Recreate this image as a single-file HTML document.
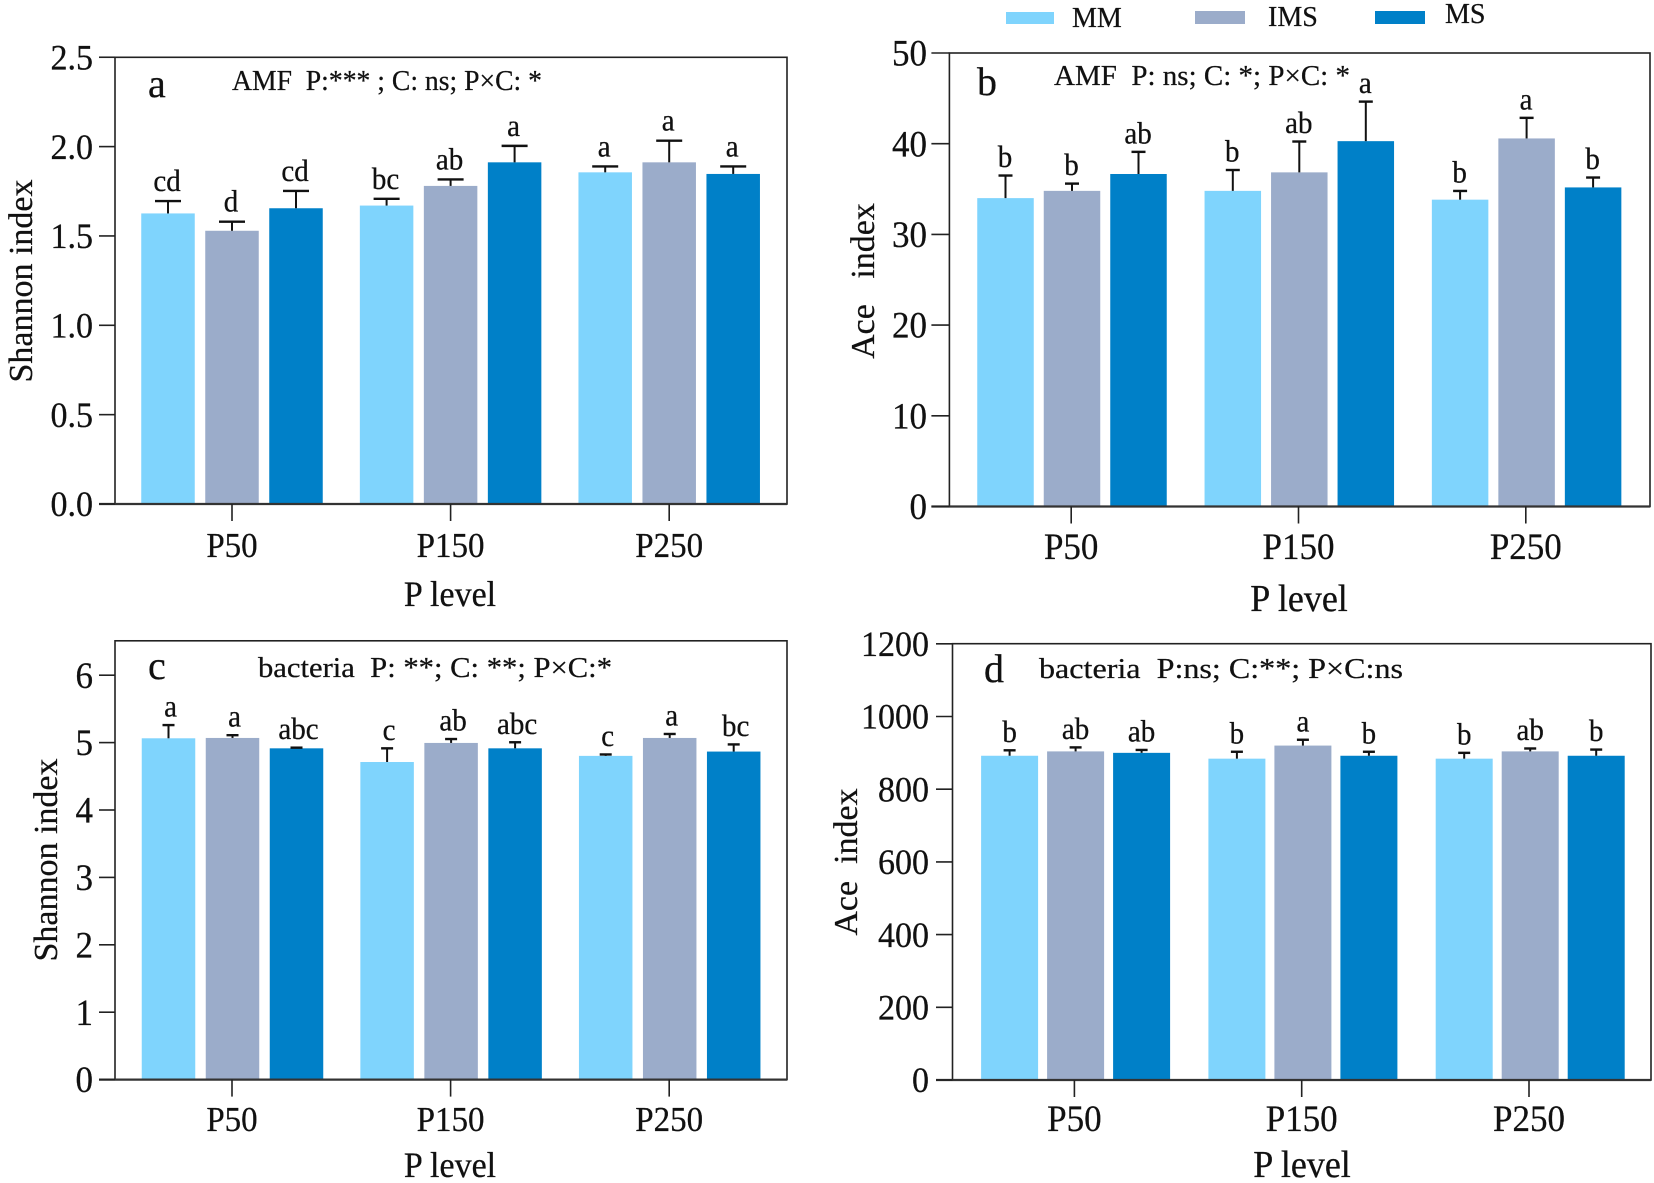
<!DOCTYPE html>
<html lang="en">
<head>
<meta charset="utf-8">
<title>Shannon and Ace diversity index by P level</title>
<style>
html,body{margin:0;padding:0;background:#fff;width:1654px;height:1183px;overflow:hidden}
svg{display:block}
text{font-family:"Liberation Serif",serif;fill:#111;stroke:#111;stroke-width:.25px;white-space:pre}
</style>
</head>
<body>
<svg id="chart" xmlns="http://www.w3.org/2000/svg" width="1654" height="1183" viewBox="0 0 1654 1183">
  <rect x="0" y="0" width="1654" height="1183" fill="#fff"/>
  <g>
    <rect x="1006" y="12" width="48" height="12" fill="#7fd4fd"/>
    <text x="1072" y="27" font-size="28">MM</text>
    <rect x="1195" y="11" width="50" height="13" fill="#9bacca"/>
    <text x="1268" y="26" font-size="28">IMS</text>
    <rect x="1375" y="11" width="50" height="13" fill="#0080c8"/>
    <text x="1445" y="23" font-size="28">MS</text>
  </g>
</svg>
<script>
const categories = ['P50', 'P150', 'P250'];
const seriesNames = ['MM', 'IMS', 'MS'];
const seriesColors = ['#7fd4fd', '#9bacca', '#0080c8'];

const ticksA = ['0.0', '0.5', '1.0', '1.5', '2.0', '2.5'];
const meansA = [[1.626, 1.67, 1.856], [1.529, 1.78, 1.912], [1.655, 1.912, 1.847]];
const errTopsA = [[1.695, 1.708, 1.889], [1.58, 1.816, 2.033], [1.752, 2.004, 1.889]];
const lettersA = [['cd', 'bc', 'a'], ['d', 'ab', 'a'], ['cd', 'a', 'a']];

const ticksB = ['0', '10', '20', '30', '40', '50'];
const meansB = [[34.0, 34.8, 33.83], [34.8, 36.84, 40.58], [36.66, 40.28, 35.18]];
const errTopsB = [[36.49, 37.1, 34.79], [35.6, 40.24, 42.85], [39.1, 44.64, 36.27]];
const lettersB = [['b', 'b', 'b'], ['b', 'ab', 'a'], ['ab', 'a', 'b']];

const ticksC = ['0', '1', '2', '3', '4', '5', '6'];
const meansC = [[5.064, 4.712, 4.803], [5.069, 4.995, 5.069], [4.915, 4.915, 4.867]];
const errTopsC = [[5.26, 4.915, 4.824], [5.11, 5.053, 5.128], [4.925, 5.005, 4.973]];
const lettersC = [['a', 'c', 'c'], ['a', 'ab', 'a'], ['abc', 'abc', 'bc']];

const ticksD = ['0', '200', '400', '600', '800', '1000', '1200'];
const meansD = [[892, 884, 884], [904, 920, 904], [900, 892, 892]];
const errTopsD = [[907, 903, 900], [915, 936, 912], [908, 903, 909]];
const lettersD = [['b', 'b', 'b'], ['ab', 'a', 'ab'], ['ab', 'b', 'b']];

const svg = document.getElementById('chart');
const NS = 'http://www.w3.org/2000/svg';
const STRETCH = 1.06;

function make(tag, attrs, parent, content) {
  const el = document.createElementNS(NS, tag);
  for (const k in attrs) el.setAttribute(k, attrs[k]);
  if (content !== undefined) el.textContent = content;
  parent.appendChild(el);
  return el;
}

function at(x, y) {
  return 'translate(' + x + ',' + y + ') scale(1,' + STRETCH + ')';
}

function drawPanel(p) {
  const g = make('g', {}, svg);
  
  

  const yScale = v => p.bottom - v * p.unit;
  const xScale = i => p.x0 + i * p.step;

  p.means.forEach((row, s) => {
    row.forEach((v, c) => {
      const cx = xScale(c) + (s - 1) * p.offset + p.barShift;

      const bar = make('rect', {
        x: cx - p.barW / 2, y: yScale(v), width: p.barW, height: p.bottom - yScale(v), fill: seriesColors[s]
      }, g);
      
      

      const errY = yScale(p.errTops[s][c]);
      const stem = make('line', {
        x1: cx, x2: cx, y1: yScale(v), y2: errY, stroke: '#111', 'stroke-width': 2
      }, g);
      
      

      const cap = make('line', {
        x1: cx - p.cap / 2, x2: cx + p.cap / 2, y1: errY, y2: errY, stroke: '#111', 'stroke-width': 2.4
      }, g);
      
      

      const letter = make('text', {
        transform: at(cx + p.letterDx, errY - p.letterGap), 'text-anchor': 'middle', 'font-size': 29
      }, g, p.letters[s][c]);
      
      
    });
  });

  const frame = make('rect', {
    x: p.left, y: p.top, width: p.right - p.left, height: p.bottom - p.top, fill: 'none', stroke: '#222', 'stroke-width': 1.6
  }, g);
  
  

  const baseline = make('line', {
    x1: p.stub, x2: p.right, y1: p.bottom, y2: p.bottom, stroke: '#333', 'stroke-width': 2.2
  }, g);
  
  

  p.ticks.forEach(label => {
    const y = yScale(parseFloat(label));
    const tick = make('line', {
      x1: p.stub, x2: p.left, y1: y, y2: y, stroke: '#222', 'stroke-width': 1.6
    }, g);
    
    
    const tickLabel = make('text', {
      transform: at(p.tickRight, y + p.tickFont * 0.36), 'text-anchor': 'end', 'font-size': p.tickFont
    }, g, label);
    
    
  });

  categories.forEach((name, i) => {
    const x = xScale(i);
    const tick = make('line', {
      x1: x, x2: x, y1: p.bottom, y2: p.bottom + 17, stroke: '#222', 'stroke-width': 1.6
    }, g);
    
    
    const lab = make('text', {
      transform: at(x, p.catY), 'text-anchor': 'middle', 'font-size': p.labelFont
    }, g, name);
    
    
  });

  const xTitle = make('text', {
    transform: at(p.xTitleX, p.xTitleY), 'text-anchor': 'middle', 'font-size': p.xTitleFont
  }, g, 'P level');
  
  

  const yTitle = make('text', {
    transform: 'translate(' + p.yTitleX + ',' + p.yTitleY + ') rotate(-90)', 'text-anchor': 'middle', 'font-size': 34
  }, g, p.yTitle);
  
  

  const tag = make('text', {
    x: p.tagX, y: p.tagY, 'font-size': 40
  }, g, p.id);
  
  

  const stat = make('text', {
    x: p.statX, y: p.statY, 'font-size': 29, textLength: p.statW, lengthAdjust: 'spacingAndGlyphs'
  }, g, p.stat);
  
  
}

drawPanel({
  id: 'a', means: meansA, errTops: errTopsA, letters: lettersA, ticks: ticksA,
  left: 115, right: 787, top: 57.3, bottom: 504, unit: 178.7, stub: 99,
  x0: 232, step: 218.6, offset: 64, barW: 53.5, cap: 26, barShift: 0, letterDx: -1, letterGap: 10,
  tickRight: 93, tickFont: 34, catY: 557, labelFont: 33, xTitleX: 450, xTitleY: 606, xTitleFont: 34,
  yTitle: 'Shannon index', yTitleX: 32, yTitleY: 281,
  tagX: 148, tagY: 97, stat: 'AMF  P:*** ; C: ns; P×C: *', statX: 232, statY: 90, statW: 310
});

drawPanel({
  id: 'b', means: meansB, errTops: errTopsB, letters: lettersB, ticks: ticksB,
  left: 949.4, right: 1650, top: 53, bottom: 506.5, unit: 9.07, stub: 931.4,
  x0: 1071.2, step: 227.3, offset: 66.5, barW: 56.5, cap: 14, barShift: 0.8, letterDx: -0.5, letterGap: 8.5,
  tickRight: 927, tickFont: 35, catY: 559, labelFont: 35, xTitleX: 1299, xTitleY: 611, xTitleFont: 36,
  yTitle: 'Ace   index', yTitleX: 874, yTitleY: 281,
  tagX: 977, tagY: 95, stat: 'AMF  P: ns; C: *; P×C: *', statX: 1054, statY: 85, statW: 296
});

drawPanel({
  id: 'c', means: meansC, errTops: errTopsC, letters: lettersC, ticks: ticksC,
  left: 115, right: 787, top: 640.8, bottom: 1079.6, unit: 67.4, stub: 99,
  x0: 232, step: 218.6, offset: 64, barW: 53.5, cap: 12, barShift: 0.5, letterDx: 2, letterGap: 8.5,
  tickRight: 93, tickFont: 35, catY: 1131, labelFont: 33, xTitleX: 450, xTitleY: 1177, xTitleFont: 34,
  yTitle: 'Shannon index', yTitleX: 57, yTitleY: 860,
  tagX: 148, tagY: 679, stat: 'bacteria  P: **; C: **; P×C:*', statX: 258, statY: 677, statW: 354
});

drawPanel({
  id: 'd', means: meansD, errTops: errTopsD, letters: lettersD, ticks: ticksD,
  left: 952.5, right: 1651, top: 643.7, bottom: 1080, unit: 0.3635, stub: 936,
  x0: 1074.4, step: 227.3, offset: 66, barW: 57, cap: 12, barShift: 1.2, letterDx: 0, letterGap: 8.5,
  tickRight: 929, tickFont: 34, catY: 1131, labelFont: 35, xTitleX: 1302, xTitleY: 1177, xTitleFont: 36,
  yTitle: 'Ace  index', yTitleX: 857, yTitleY: 862,
  tagX: 984, tagY: 682, stat: 'bacteria  P:ns; C:**; P×C:ns', statX: 1039, statY: 678, statW: 364
});
</script>
</body>
</html>
